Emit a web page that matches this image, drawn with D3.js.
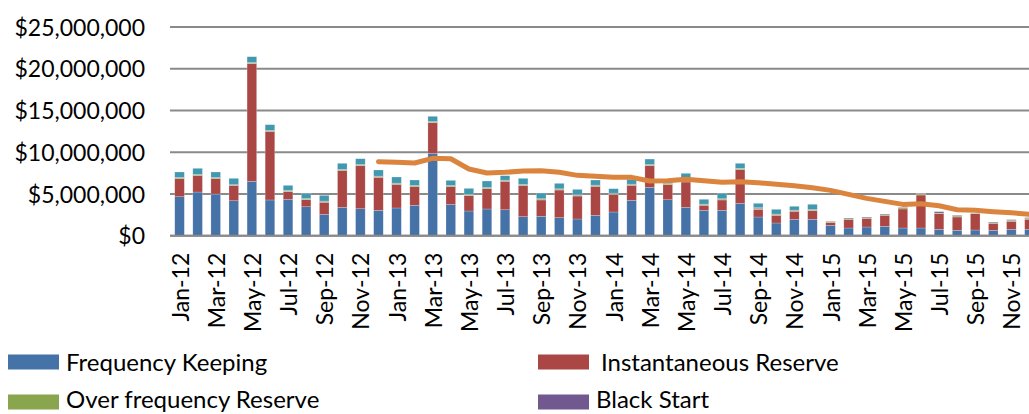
<!DOCTYPE html>
<html>
<head>
<meta charset="utf-8">
<script src="https://cdn.jsdelivr.net/npm/d3@7"></script>
<style>
  html, body { margin: 0; padding: 0; background: #fff; }
  svg { display: block; }
  text { font-family: Lato, "Open Sans", sans-serif; fill: #000; }
</style>
</head>
<body>
<svg id="chart" width="1029" height="414"></svg>
<script>
// ---- Data (values in $ millions) ----
const months = ["Jan-12","Feb-12","Mar-12","Apr-12","May-12","Jun-12","Jul-12","Aug-12","Sep-12","Oct-12","Nov-12","Dec-12",
  "Jan-13","Feb-13","Mar-13","Apr-13","May-13","Jun-13","Jul-13","Aug-13","Sep-13","Oct-13","Nov-13","Dec-13",
  "Jan-14","Feb-14","Mar-14","Apr-14","May-14","Jun-14","Jul-14","Aug-14","Sep-14","Oct-14","Nov-14","Dec-14",
  "Jan-15","Feb-15","Mar-15","Apr-15","May-15","Jun-15","Jul-15","Aug-15","Sep-15","Oct-15","Nov-15","Dec-15"];

const frequencyKeeping = [4.67,5.23,4.99,4.19,6.51,4.28,4.36,3.47,2.56,3.40,3.23,3.04,
  3.32,3.64,9.87,3.74,2.96,3.20,3.11,2.28,2.32,2.16,2.00,2.44,
  2.84,4.23,5.79,4.31,3.40,3.04,3.04,3.88,2.24,1.52,1.96,1.96,
  1.24,0.92,1.04,1.12,0.92,0.92,0.76,0.64,0.68,0.64,0.76,0.76];

const instantaneousReserve = [2.16,1.96,1.84,1.80,14.09,8.18,0.91,0.84,1.44,4.39,5.15,3.95,
  2.83,2.23,3.66,2.13,1.83,2.43,3.40,3.71,1.96,3.31,2.75,3.47,
  2.11,1.80,2.59,1.80,3.03,0.60,1.24,4.04,0.92,0.92,0.96,1.03,
  0.32,1.00,1.00,1.28,2.28,3.95,1.88,1.60,1.96,0.80,0.96,1.20];

const overFrequencyReserve = [0.10,0.10,0.10,0.05,0.10,0.10,0.10,0.10,0.10,0.10,0.10,0.10,
  0.10,0.10,0.10,0.10,0.10,0.10,0.10,0.10,0.10,0.10,0.10,0.10,
  0.10,0.10,0.10,0.10,0.10,0.10,0.10,0.10,0.10,0.10,0.10,0.10,
  0.10,0.12,0.12,0.12,0.14,0.14,0.08,0.12,0.03,0.12,0.12,0.12];

const blackStart = [0.05,0.05,0.05,0.10,0.05,0.05,0.05,0.05,0.05,0.05,0.05,0.05,
  0.05,0.05,0.05,0.05,0.05,0.05,0.05,0.05,0.05,0.05,0.05,0.05,
  0.05,0.05,0.05,0.05,0.05,0.05,0.05,0.05,0.10,0.05,0.05,0.05,
  0.06,0.08,0.08,0.08,0.06,0.06,0.16,0.08,0.02,0.08,0.08,0.08];

const otherServices = [0.65,0.73,0.65,0.73,0.69,0.69,0.61,0.61,0.68,0.73,0.69,0.73,
  0.73,0.65,0.62,0.61,0.73,0.77,0.53,0.73,0.68,0.65,0.65,0.61,
  0.53,0.57,0.65,0.05,0.89,0.57,0.64,0.60,0.52,0.57,0.45,0.62,
  0,0,0,0,0,0,0,0,0,0,0,0];

const rollingAverage = [null,null,null,null,null,null,null,null,null,null,null,8.86,
  8.79,8.71,9.27,9.22,7.99,7.51,7.59,7.75,7.79,7.59,7.23,7.11,
  6.99,6.99,6.55,6.59,6.75,6.59,6.39,6.47,6.35,6.15,5.99,5.75,
  5.43,4.95,4.47,4.11,3.75,3.83,3.59,3.11,3.04,2.88,2.75,2.56];

const yTicks = [0,5,10,15,20,25];

const seriesNames = ["Frequency Keeping","Instantaneous Reserve","Over frequency Reserve","Black Start","Other"];
const seriesColors = ["#4572A7","#AA4643","#89A54E","#71588F","#4198AF"];
const lineColor = "#DB843D";

// ---- Build table ----
const table = months.map((m, i) => ({
  month: m,
  "Frequency Keeping": frequencyKeeping[i] * 1e6,
  "Instantaneous Reserve": instantaneousReserve[i] * 1e6,
  "Over frequency Reserve": overFrequencyReserve[i] * 1e6,
  "Black Start": blackStart[i] * 1e6,
  "Other": otherServices[i] * 1e6
}));

const svg = d3.select("#chart");
const plotLeft = 170, plotRight = 1038, plotTop = 27, plotBottom = 235.7;

const x = d3.scaleBand().domain(months).range([plotLeft + 0.5, plotRight + 0.5]).paddingInner(0.47).paddingOuter(0.235);
const y = d3.scaleLinear().domain([0, 25e6]).range([plotBottom, plotTop]);

// gridlines
svg.append("g").selectAll("line").data(yTicks.map(v => v * 1e6)).join("line")
  .attr("x1", plotLeft).attr("x2", 1029)
  .attr("y1", d => y(d)).attr("y2", d => y(d))
  .attr("stroke", "#8a8a8a").attr("stroke-width", 2);

// y axis labels
const fmt = d3.format("$,.0f");
const yAxis = d3.axisLeft(y).tickValues(yTicks.map(v => v * 1e6)).tickFormat(fmt).tickSize(0).tickPadding(0);
const yG = svg.append("g").attr("transform", "translate(145,0)").call(yAxis);
yG.select(".domain").remove();
yG.selectAll("text").attr("font-size", 23).attr("font-family", "Lato, sans-serif").attr("fill", "#000").attr("dy", "0.35em");

// stacked bars
const stack = d3.stack().keys(seriesNames);
const stacked = stack(table);
svg.append("g").selectAll("g").data(stacked).join("g")
  .attr("fill", (d, i) => seriesColors[i])
  .selectAll("rect").data(d => d).join("rect")
  .attr("x", d => x(d.data.month))
  .attr("width", x.bandwidth())
  .attr("y", d => y(d[1]))
  .attr("height", d => Math.max(0, y(d[0]) - y(d[1])))
  .attr("stroke", "#ffffff").attr("stroke-opacity", 0.35).attr("stroke-width", 0.6);

// x axis line
svg.append("line").attr("x1", plotLeft).attr("x2", 1029)
  .attr("y1", plotBottom).attr("y2", plotBottom)
  .attr("stroke", "#8a8a8a").attr("stroke-width", 2);

// x axis labels (every other month)
const xAxis = d3.axisBottom(x).tickValues(months.filter((m, i) => i % 2 === 0)).tickSize(0).tickPadding(0);
const xG = svg.append("g").attr("transform", `translate(0,${plotBottom})`).call(xAxis);
xG.select(".domain").remove();
xG.selectAll("text")
  .attr("font-size", 23).attr("font-family", "Lato, sans-serif").attr("fill", "#000")
  .attr("text-anchor", "end")
  .attr("transform", "rotate(-90)")
  .attr("x", -17).attr("y", 1).attr("dy", "0.35em");

// rolling average line
const line = d3.line()
  .defined(d => d != null)
  .x((d, i) => x(months[i]) + x.bandwidth() / 2)
  .y(d => y(d * 1e6));
svg.append("path").datum(rollingAverage)
  .attr("d", line)
  .attr("fill", "none").attr("stroke", lineColor).attr("stroke-width", 5)
  .attr("stroke-linecap", "round").attr("stroke-linejoin", "round");

// legend
const legendItems = [
  {name: "Frequency Keeping", color: seriesColors[0], sx: 8, tx: 66, cy: 362, ty: 362},
  {name: "Instantaneous Reserve", color: seriesColors[1], sx: 538, tx: 601, cy: 362, ty: 362},
  {name: "Over frequency Reserve", color: seriesColors[2], sx: 8, tx: 66, cy: 402, ty: 399},
  {name: "Black Start", color: seriesColors[3], sx: 538, tx: 596, cy: 402, ty: 399}
];
const lg = svg.append("g").selectAll("g").data(legendItems).join("g");
lg.append("rect").attr("x", d => d.sx).attr("y", d => d.cy - 7.5).attr("width", 51).attr("height", 15).attr("fill", d => d.color);
lg.append("text").attr("x", d => d.tx).attr("y", d => d.ty).attr("dy", "0.36em")
  .attr("font-size", 24).text(d => d.name);
</script>
</body>
</html>
